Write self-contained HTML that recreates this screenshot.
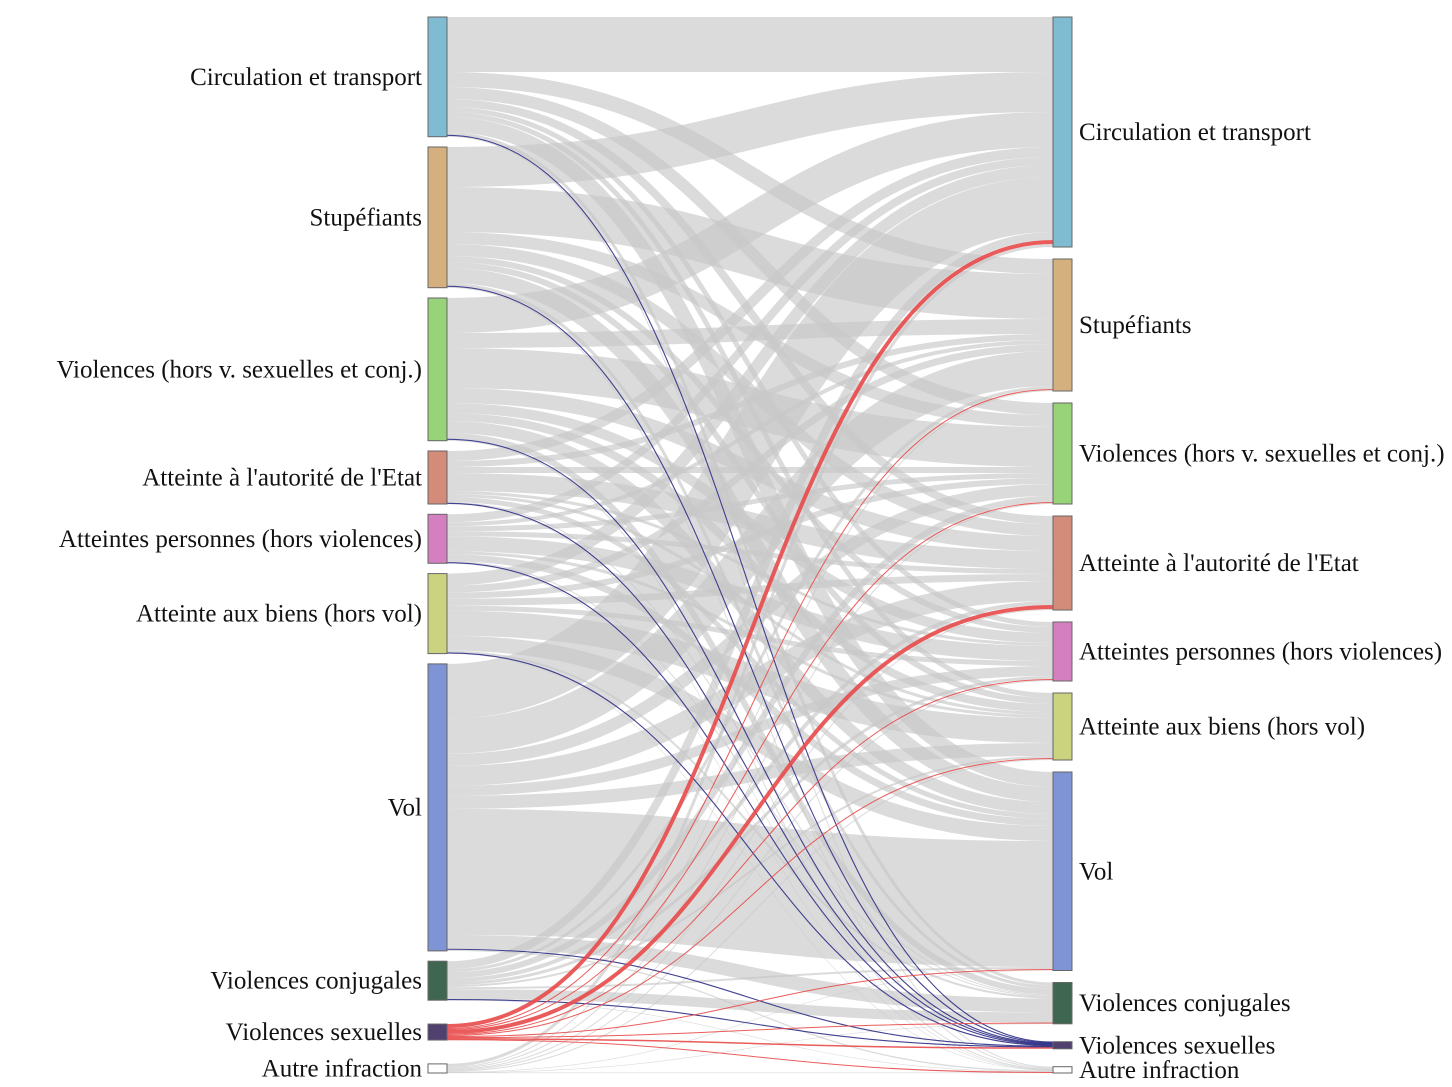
<!DOCTYPE html>
<html><head><meta charset="utf-8">
<style>
html,body{margin:0;padding:0;background:#fff;width:1452px;height:1087px;overflow:hidden}
svg{display:block}
text{font-family:"Liberation Serif",serif;font-size:25px;fill:#111}
</style></head>
<body>
<svg id="chart" width="1452" height="1087" viewBox="0 0 1452 1087"></svg>
<script>
const categories=["Circulation et transport","Stupéfiants","Violences (hors v. sexuelles et conj.)","Atteinte à l'autorité de l'Etat","Atteintes personnes (hors violences)","Atteinte aux biens (hors vol)","Vol","Violences conjugales","Violences sexuelles","Autre infraction"];
const colors=["#7fbcd2","#d4b07f","#98d37a","#d38b7a","#d47fc0","#ccd37f","#7f94d4","#3f6650","#4f4070","#ffffff"];
// flows[source][target]
const flowsCirculation=[55,15,12,8,5,5,15,3,0.7,1];
const flowsStupefiants=[40,45,12,12,6,6,15,3,0.7,1];
const flowsViolences=[35,15,40,15,10,8,12,6,0.7,1];
const flowsAutorite=[10,6,6,18,3,3,5,1,0.7,0.3];
const flowsPersonnes=[8,4,5,5,15,3,7,1,0.7,0.3];
const flowsBiens=[12,7,6,7,5,25,15,2,0.7,0.3];
const flowsVol=[55,35,12,20,10,13,126,14,0.7,1.3];
const flowsConjugales=[8,3,6,4,3,2,2,10,0.7,0.3];
const flowsSexuelles=[4,1,1,4,1,1,1,1,1.5,0.5];
const flowsAutre=[3,1,1,1,1,1,0.5,0.3,0,0.3];
const flows=[flowsCirculation,flowsStupefiants,flowsViolences,flowsAutorite,flowsPersonnes,flowsBiens,flowsVol,flowsConjugales,flowsSexuelles,flowsAutre];

const NS="http://www.w3.org/2000/svg";
const svg=document.getElementById('chart');
const top0=17,bottom0=1073,xL0=428,xL1=447,xR0=1053,xR1=1072;
const n=categories.length;
const rowSum=flows.map(r=>r.reduce((a,b)=>a+b,0));
const colSum=categories.map((_,j)=>flows.reduce((a,r)=>a+r[j],0));
const k=1;
function layout(sums,fixedPad){
  const hs=sums.map(s=>s*k);
  const rest=bottom0-top0-hs.reduce((a,b)=>a+b,0);
  const pads=[];
  for(let i=0;i<n-1;i++)pads.push(i<n-3?fixedPad:0);
  const rem=(rest-fixedPad*(n-3))/2;pads[n-3]=rem;pads[n-2]=rem;
  let y=top0;const ys=[];
  hs.forEach((h,i)=>{ys.push(y);y+=h+(pads[i]||0);});
  return {ys,hs};
}
const L=layout(rowSum,10.3),R=layout(colSum,12);
function mk(tag,attrs){const e=document.createElementNS(NS,tag);for(const a in attrs)e.setAttribute(a,attrs[a]);return e;}
const gLinks=mk('g',{});


svg.appendChild(gLinks);
const sOff=L.ys.slice(),tOff=R.ys.slice();
const links=[];
for(let i=0;i<n;i++)for(let j=0;j<n;j++){
  const w=flows[i][j]*k;
  links.push({i,j,w,y0:sOff[i]+w/2});
  sOff[i]+=w;
}
for(let j=0;j<n;j++)for(let i=0;i<n;i++){
  const l=links[i*n+j];l.y1=tOff[j]+l.w/2;tOff[j]+=l.w;
}
const mid=(xL1+xR0)/2;
function drawLink(l,color,op,width){
  const p=mk('path',{d:`M${xL1},${l.y0}C${mid},${l.y0} ${mid},${l.y1} ${xR0},${l.y1}`,fill:'none',stroke:color,'stroke-opacity':op,'stroke-width':width});
  
  
  gLinks.appendChild(p);
}
links.filter(l=>l.w>0&&l.i!==8&&l.j!==8).forEach(l=>drawLink(l,'#c8c8c8',0.65,Math.max(l.w,0.6)));
links.filter(l=>l.w>0&&l.j===8&&l.i!==8).forEach(l=>drawLink(l,'#2e2e85',0.9,1.1));
links.filter(l=>l.w>0&&l.i===8).forEach(l=>drawLink(l,'#e84a4a',0.9,Math.max(l.w,1)));
for(let s=0;s<2;s++){
  const Lay=s?R:L,x=s?xR0:xL0;
  for(let i=0;i<n;i++){
    const r=mk('rect',{x:x,y:Lay.ys[i],width:19,height:Math.max(Lay.hs[i],6),fill:colors[i],stroke:'#666','stroke-width':1});
    
    
    svg.appendChild(r);
    const t=mk('text',{x:s?xR1+7:xL0-6,y:Lay.ys[i]+Math.max(Lay.hs[i],6)/2+8,'text-anchor':s?'start':'end'});
    t.textContent=categories[i];
    
    
    svg.appendChild(t);
  }
}
</script>
</body></html>
